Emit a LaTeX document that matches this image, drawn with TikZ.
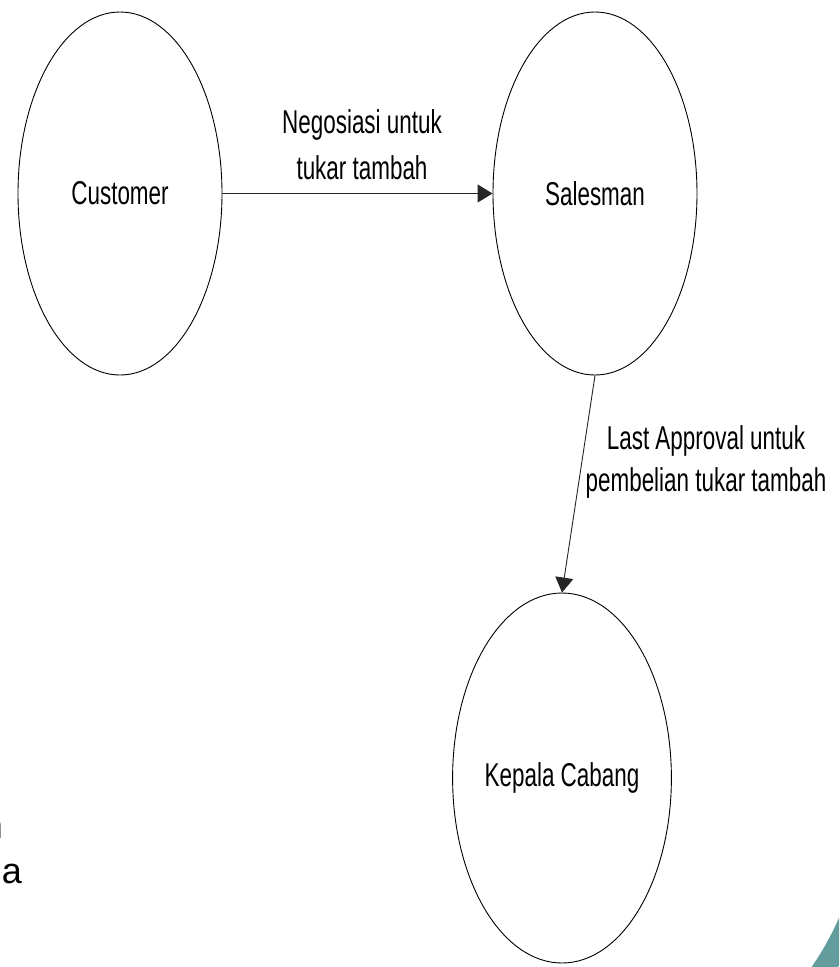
\documentclass[tikz,border=0pt]{standalone}
\usepackage{fontspec}
\setmainfont{Liberation Sans}
\newfontfamily\narrowfont{Liberation Sans}[FakeStretch=0.68]
\usetikzlibrary{shapes.geometric,arrows.meta}
\definecolor{bandteal}{RGB}{99,156,157}
\tikzset{
  entity/.style={ellipse, draw=black, line width=0.9pt, inner sep=0pt,
    minimum width=204, minimum height=363,
    font=\narrowfont\fontsize{33}{40}\selectfont},
  flow/.style={draw=black!85, line width=0.9pt,
    -{Triangle[length=15pt,width=18pt]}},
  flowlabel/.style={inner sep=0pt, align=center,
    font=\narrowfont\fontsize{33}{46}\selectfont},
  cuttext/.style={inner sep=0pt, anchor=base east,
    font=\fontsize{36}{40}\selectfont},
}
\begin{document}
\begin{tikzpicture}[x=1pt, y=-1pt]
  \fill[white] (0,0) rectangle (839,967);
  \clip (0,0) rectangle (839,967);

  % entities
  \node[entity] (cust) at (120,193.5) {Customer};
  \node[entity] (sales) at (595,193.5) {Salesman};
  \node[entity, minimum height=370] (kacab) at (562,778) {Kepala Cabang};

  % data flows
  \draw[flow] (cust.east) -- (sales.west);
  \draw[flow] (sales.south) -- (kacab.north);

  \node[flowlabel] (l1) at (362,145) {Negosiasi untuk\\tukar tambah};
  \node[flowlabel, font=\narrowfont\fontsize{33}{42}\selectfont] (l2) at (706,462) {Last Approval untuk\\pembelian tukar tambah};

  % text running off the left edge
  \node[cuttext] (frag1) at (3,838) {n};
  \node[cuttext] (frag2) at (22,883) {a};

  % corner band
  \draw[bandteal, line width=22pt] (804,995) arc[start angle=40, end angle=20, radius=300];
\end{tikzpicture}
\end{document}
